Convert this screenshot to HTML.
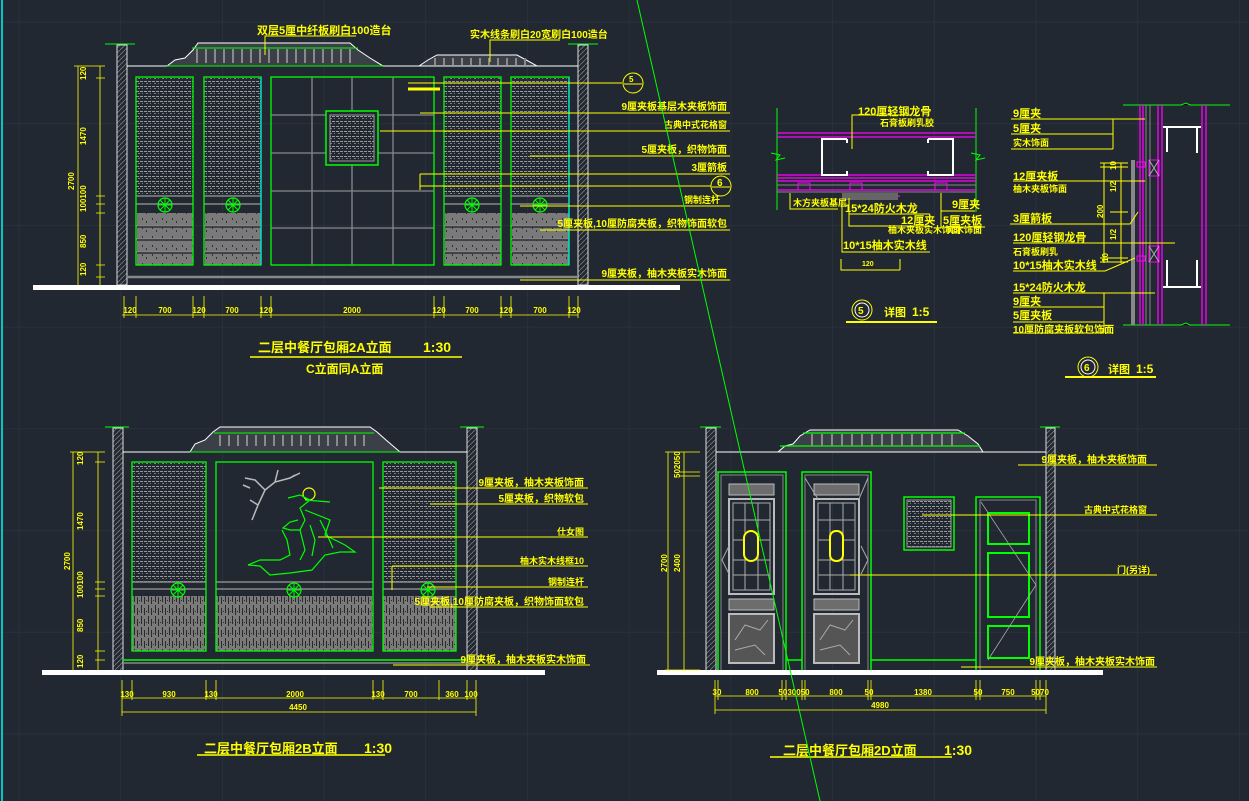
<!DOCTYPE html>
<html><head><meta charset="utf-8">
<style>
html,body{margin:0;padding:0;background:#212832;}
svg{display:block;}
text{font-family:"Liberation Sans","Noto Sans CJK SC",sans-serif;fill:#ffff00;font-weight:bold;}
</style></head>
<body>
<svg width="1249" height="801" viewBox="0 0 1249 801" xmlns="http://www.w3.org/2000/svg">
<defs>
<pattern id="grid" x="18.6" y="21.7" width="101.7" height="101.7" patternUnits="userSpaceOnUse">
<path d="M0 0H101.7M0 0V101.7" stroke="#2d3542" stroke-width="1.2" fill="none"/>
</pattern>
<pattern id="lat" width="8" height="5" patternUnits="userSpaceOnUse">
<rect x="0" y="1" width="3" height="1" fill="#999"/><rect x="4" y="1" width="3" height="1" fill="#999"/>
<rect x="2" y="3" width="2" height="1" fill="#7d7d7d"/><rect x="6" y="3" width="1" height="1" fill="#7d7d7d"/>
</pattern>
<pattern id="stone" width="10" height="9" patternUnits="userSpaceOnUse">
<rect width="10" height="9" fill="#7a7a7a"/>
<rect x="2" y="2" width="1" height="2" fill="#333"/><rect x="6" y="5" width="1" height="2" fill="#333"/>
</pattern>
<pattern id="stripe" width="7" height="11" patternUnits="userSpaceOnUse">
<rect width="7" height="11" fill="#7a7a7a"/>
<rect x="1" y="0" width="1" height="8" fill="#2a2a2a"/><rect x="4" y="3" width="1" height="7" fill="#2a2a2a"/><rect x="6" y="6" width="1" height="1" fill="#2a2a2a"/>
</pattern>
<pattern id="hatch" width="5" height="5" patternUnits="userSpaceOnUse">
<path d="M0 5L5 0" stroke="#7a7a7a" stroke-width="0.8"/>
</pattern>
<g id="flower"><circle r="7" fill="none" stroke="#00ff00" stroke-width="1.2"/><path d="M-7 0H7M0 -7V7M-5 -5L5 5M-5 5L5 -5" stroke="#00ff00" stroke-width="1"/></g>
</defs>
<rect width="1249" height="801" fill="#212832"/>
<rect width="1249" height="801" fill="url(#grid)"/>
<line x1="2" y1="0" x2="2" y2="801" stroke="#00c8c8" stroke-width="2"/>

<!-- ============ TOP-LEFT ELEVATION 2A ============ -->
<g>
<rect x="117" y="45" width="10" height="240" fill="url(#hatch)" stroke="#ddd" stroke-width="1"/>
<rect x="578" y="45" width="10" height="240" fill="url(#hatch)" stroke="#ddd" stroke-width="1"/>
<line x1="105" y1="44" x2="135" y2="44" stroke="#00ff00"/><line x1="568" y1="44" x2="598" y2="44" stroke="#00ff00"/>
<line x1="127" y1="66" x2="578" y2="66" stroke="#fff"/>
<path d="M167 66 L175 60 L185 58 L193 50 L198 43 L350 43 L358 50 L370 58 L383 66 Z" fill="#3a3f48" stroke="#fff" stroke-width="1"/>
<line x1="192" y1="48" x2="358" y2="48" stroke="#00ff00"/>
<line x1="167" y1="66" x2="383" y2="66" stroke="#00ff00"/>
<g stroke="#8a8a8a" stroke-width="2">
<path d="M197 49V63M206 49V63M215 49V63M224 49V63M233 49V63M242 49V63M251 49V63M260 49V63M269 49V63M278 49V63M287 49V63M296 49V63M305 49V63M314 49V63M323 49V63M332 49V63M341 49V63M350 49V63"/>
</g>
<path d="M419 66 L428 60 L437 55 L517 55 L528 61 L537 66 Z" fill="#3a3f48" stroke="#fff" stroke-width="1"/>
<g stroke="#8a8a8a" stroke-width="2"><path d="M435 58V65M444 58V65M453 58V65M462 58V65M471 58V65M480 58V65M489 58V65M498 58V65M507 58V65M516 58V65M525 58V65"/></g>
<g>
<rect x="136" y="77" width="57" height="119" fill="url(#lat)"/>
<rect x="204" y="77" width="57" height="119" fill="url(#lat)"/>
<rect x="444" y="77" width="57" height="119" fill="url(#lat)"/>
<rect x="511" y="77" width="58" height="119" fill="url(#lat)"/>
<g fill="url(#stone)">
<rect x="137" y="213" width="56" height="52"/><rect x="205" y="213" width="56" height="52"/>
<rect x="445" y="213" width="56" height="52"/><rect x="512" y="213" width="57" height="52"/>
</g>
<g stroke="#888" stroke-width="1.5">
<path d="M136 196H193M136 204H193M136 226H193M136 239H193M136 252H193"/>
<path d="M204 196H261M204 204H261M204 226H261M204 239H261M204 252H261"/>
<path d="M444 196H501M444 204H501M444 226H501M444 239H501M444 252H501"/>
<path d="M511 196H569M511 204H569M511 226H569M511 239H569M511 252H569"/>
</g>
<g stroke="#2a2f38" stroke-width="1.5">
<path d="M137 227H193M137 240H193M137 253H193M205 227H261M205 240H261M205 253H261M445 227H501M445 240H501M445 253H501M512 227H569M512 240H569M512 253H569"/>
</g>
<g fill="none" stroke="#00ff00" stroke-width="1.3">
<rect x="136" y="77" width="57" height="188"/><rect x="204" y="77" width="57" height="188"/>
<rect x="444" y="77" width="57" height="188"/><rect x="511" y="77" width="58" height="188"/>
<rect x="271" y="77" width="163" height="188"/>
</g>
<path d="M261 77V265M569 77V265" stroke="#00dddd" stroke-width="1.3"/>
<use href="#flower" x="165" y="205"/><use href="#flower" x="233" y="205"/><use href="#flower" x="472" y="205"/><use href="#flower" x="540" y="205"/>
<g stroke="#888" stroke-width="1.3">
<path d="M312 77V265M352 77V265M393 77V265M271 115H434M271 153H434M271 191H434M271 228H434"/>
</g>
<rect x="326" y="111" width="52" height="54" fill="#212832" stroke="#00ff00" stroke-width="1.5"/>
<rect x="330" y="115" width="44" height="46" fill="url(#lat)" stroke="#999"/>
</g>
<line x1="127" y1="277" x2="578" y2="277" stroke="#888" stroke-width="2.5"/>
<rect x="33" y="285" width="647" height="5" fill="#fff"/>
<g stroke="#ffff00" stroke-width="0.8" fill="none">
<path d="M78 66V285M100 66V285M74 66H105M96 78H105M96 196H105M96 204H105M96 213H105M96 265H105M96 277H105"/>
</g>
<g font-size="8">
<text transform="translate(86,80) rotate(-90)">120</text>
<text transform="translate(86,145) rotate(-90)">1470</text>
<text transform="translate(74,190) rotate(-90)">2700</text>
<text transform="translate(86,212) rotate(-90)">100100</text>
<text transform="translate(86,248) rotate(-90)">850</text>
<text transform="translate(86,276) rotate(-90)">120</text>
</g>
<g stroke="#ffff00" stroke-width="0.8"><path d="M122 315H578M124 296V318M136 296V318M193 296V318M204 296V318M261 296V318M271 296V318M434 296V318M444 296V318M501 296V318M511 296V318M569 296V318M578 296V318"/></g>
<g font-size="8" text-anchor="middle">
<text x="130" y="313">120</text><text x="165" y="313">700</text><text x="199" y="313">120</text><text x="232" y="313">700</text><text x="266" y="313">120</text><text x="352" y="313">2000</text><text x="439" y="313">120</text><text x="472" y="313">700</text><text x="506" y="313">120</text><text x="540" y="313">700</text><text x="574" y="313">120</text>
</g>
<text x="258" y="352" font-size="13">二层中餐厅包厢2A立面</text><text x="423" y="352" font-size="14">1:30</text>
<line x1="250" y1="357" x2="462" y2="357" stroke="#ffff00" stroke-width="1.5"/>
<text x="306" y="373" font-size="12">C立面同A立面</text>
<path d="M265 55V36H356" stroke="#ffff00" fill="none"/>
<text x="257" y="34" font-size="11">双层5厘中纤板刷白100造台</text>
<path d="M490 62V40H560" stroke="#ffff00" fill="none"/>
<text x="470" y="38" font-size="10">实木线条刷白20宽刷白100造台</text>
<g stroke="#ffff00" stroke-width="1">
<path d="M408 83H622"/><path d="M408 89H440" stroke-width="3"/>
<path d="M420 113H730M380 131H730M530 156H730M420 174H730M420 186H711M520 206H730M540 230H730M520 280H730"/>
<path d="M420 174V190"/>
</g>
<circle cx="633" cy="83" r="10" fill="none" stroke="#ffff00"/><line x1="624" y1="84" x2="642" y2="84" stroke="#ffff00"/><text x="629" y="82" font-size="8">5</text>
<circle cx="721" cy="186" r="10" fill="none" stroke="#ffff00"/><line x1="712" y1="187" x2="730" y2="187" stroke="#ffff00"/><text x="717" y="186" font-size="10">6</text>
<g font-size="10" text-anchor="end">
<text x="727" y="110">9厘夹板基层木夹板饰面</text>
<text x="727" y="128" font-size="9">古典中式花格窗</text>
<text x="727" y="153">5厘夹板，织物饰面</text>
<text x="727" y="171">3厘箭板</text>
<text x="720" y="203" font-size="9">钢制连杆</text>
<text x="727" y="227">5厘夹板,10厘防腐夹板，织物饰面软包</text>
<text x="727" y="277">9厘夹板，柚木夹板实木饰面</text>
</g>
</g>

<!-- ============ DETAIL 5 ============ -->
<g>
<path d="M777 108V210M976 108V212" stroke="#00ff00"/>
<path d="M771 153L780 155L776 160L785 158M971 153L980 155L976 160L985 158" stroke="#00ff00" fill="none"/>
<g stroke="#ff00ff" stroke-width="1.2"><path d="M777 133H976M777 137H976M777 175H976M777 178H976M777 181H976M777 190H976M848 196H900"/></g>
<path d="M777 185H976M777 192H976" stroke="#888"/>
<g fill="none" stroke="#fff" stroke-width="2"><path d="M847 139H822V175H847V171M847 139V143"/><path d="M928 139H953V175H928V171M928 139V143"/></g>
<rect x="842" y="193" width="56" height="7" fill="#666"/>
<rect x="798" y="183" width="12" height="7" fill="none" stroke="#ff00ff"/><rect x="850" y="183" width="12" height="7" fill="none" stroke="#ff00ff"/><rect x="935" y="183" width="12" height="7" fill="none" stroke="#ff00ff"/>
<g stroke="#ffff00" fill="none" stroke-width="1">
<path d="M852 149V115H912M790 193V209H838M849 198V214H930M849 214V226H930M842 200V252H930M941 193V211H975M941 211V227H985M841 262V270H900M841 259V270M900 259V270"/>
</g>
<g font-size="11">
<text x="858" y="115">120厘轻钢龙骨</text><text x="880" y="126" font-size="9">石膏板刷乳胶</text>
<text x="793" y="206" font-size="9">木方夹板基层</text>
<text x="845" y="212">15*24防火木龙</text>
<text x="901" y="224">12厘夹</text><text x="888" y="233" font-size="9">柚木夹板实木饰面</text>
<text x="843" y="249">10*15柚木实木线</text>
<text x="952" y="208">9厘夹</text><text x="943" y="224">5厘夹板</text><text x="946" y="233" font-size="9">实木饰面</text>
<text x="862" y="266" font-size="7">120</text>
</g>
<circle cx="862" cy="310" r="10" fill="none" stroke="#ffff00"/><circle cx="862" cy="310" r="7" fill="none" stroke="#fff"/><text x="858" y="314" font-size="10">5</text>
<text x="884" y="316" font-size="11">详图</text><text x="912" y="316" font-size="12">1:5</text>
<line x1="846" y1="322" x2="937" y2="322" stroke="#ffff00" stroke-width="2"/>
</g>

<!-- ============ DETAIL 6 ============ -->
<g>
<path d="M1123 105H1181L1186 103L1190 105H1230M1123 325H1181L1186 323L1190 325H1230" stroke="#00ff00"/>
<g stroke="#ff00ff" stroke-width="1.3"><path d="M1140 105V325M1143 105V325M1158 105V325M1162 105V325M1202 105V325M1206 105V325"/></g>
<path d="M1133 160V325" stroke="#888" stroke-width="4"/>
<path d="M1146 105V325M1150 105V325" stroke="#888" stroke-width="1"/>
<rect x="1149" y="160" width="10" height="16" fill="none" stroke="#ff00ff"/><path d="M1149 160L1159 176M1159 160L1149 176" stroke="#aaa"/>
<rect x="1149" y="246" width="10" height="16" fill="none" stroke="#ff00ff"/><path d="M1149 246L1159 262M1159 246L1149 262" stroke="#aaa"/>
<rect x="1137" y="162" width="8" height="5" fill="none" stroke="#ff00ff"/><rect x="1137" y="256" width="8" height="5" fill="none" stroke="#ff00ff"/>
<g fill="none" stroke="#fff" stroke-width="2"><path d="M1167 152V127H1197V153M1163 127H1172M1192 127H1201"/><path d="M1167 260V287H1197V260M1163 287H1172M1192 287H1201"/></g>
<g stroke="#ffff00" stroke-width="1" fill="none">
<path d="M1011 119H1145M1011 134H1113M1011 149H1113M1113 119V149"/>
<path d="M1013 181H1145M1010 224H1130L1138 212M1013 243H1175M1013 271H1105L1135 258M1013 293H1155M1013 307H1104M1013 322H1104M1013 333H1104M1104 293V333"/>
<path d="M1104 163V263M1121 163V263M1100 163H1128M1100 167H1128M1110 212H1128M1100 258H1128M1100 262H1128"/>
</g>
<g font-size="11">
<text x="1013" y="117">9厘夹</text><text x="1013" y="132">5厘夹</text><text x="1013" y="146" font-size="9">实木饰面</text>
<text x="1013" y="180">12厘夹板</text><text x="1013" y="192" font-size="9">柚木夹板饰面</text>
<text x="1013" y="222">3厘箭板</text>
<text x="1013" y="241">120厘轻钢龙骨</text><text x="1013" y="255" font-size="9">石膏板刷乳</text>
<text x="1013" y="269">10*15柚木实木线</text>
<text x="1013" y="291">15*24防火木龙</text>
<text x="1013" y="305">9厘夹</text><text x="1013" y="319">5厘夹板</text><text x="1013" y="333" font-size="10">10厘防腐夹板软包饰面</text>
</g>
<g font-size="8"><text transform="translate(1116,170) rotate(-90)">10</text><text transform="translate(1116,192) rotate(-90)">1/2</text><text transform="translate(1103,218) rotate(-90)">200</text><text transform="translate(1116,240) rotate(-90)">1/2</text><text transform="translate(1108,262) rotate(-90)">10</text></g>
<circle cx="1088" cy="367" r="10" fill="none" stroke="#ffff00"/><circle cx="1088" cy="367" r="7" fill="none" stroke="#fff"/><text x="1084" y="371" font-size="10">6</text>
<text x="1108" y="373" font-size="11">详图</text><text x="1136" y="373" font-size="12">1:5</text>
<line x1="1065" y1="377" x2="1156" y2="377" stroke="#ffff00" stroke-width="2"/>
</g>

<!-- ============ BOTTOM-LEFT 2B ============ -->
<g>
<rect x="113" y="428" width="10" height="243" fill="url(#hatch)" stroke="#ddd"/>
<rect x="467" y="428" width="10" height="243" fill="url(#hatch)" stroke="#ddd"/>
<line x1="105" y1="427" x2="129" y2="427" stroke="#00ff00"/><line x1="460" y1="427" x2="484" y2="427" stroke="#00ff00"/>
<line x1="123" y1="452" x2="467" y2="452" stroke="#fff"/>
<path d="M190 452 L195 444 L205 440 L213 432 L220 427 L370 427 L377 432 L386 440 L393 446 L400 452 Z" fill="#3a3f48" stroke="#fff"/>
<path d="M214 433H374M190 452H400" stroke="#00ff00"/>
<g stroke="#8a8a8a" stroke-width="2"><path d="M220 435V446M229 435V446M238 435V446M247 435V446M256 435V446M265 435V446M274 435V446M283 435V446M292 435V446M301 435V446M310 435V446M319 435V446M328 435V446M337 435V446M346 435V446M355 435V446M364 435V446"/></g>
<rect x="132" y="462" width="74" height="120" fill="url(#lat)"/>
<rect x="383" y="462" width="73" height="120" fill="url(#lat)"/>
<rect x="132" y="596" width="74" height="55" fill="url(#stripe)"/>
<rect x="216" y="596" width="157" height="55" fill="url(#stripe)"/>
<rect x="383" y="596" width="73" height="55" fill="url(#stripe)"/>
<g stroke="#888" stroke-width="1.5"><path d="M132 582H206M132 589H206M216 582H373M216 589H373M383 582H456M383 589H456"/></g>
<g fill="none" stroke="#00ff00" stroke-width="1.3">
<rect x="132" y="462" width="74" height="189"/><rect x="216" y="462" width="157" height="189"/><rect x="383" y="462" width="73" height="189"/>
</g>
<use href="#flower" x="178" y="590"/><use href="#flower" x="294" y="590"/><use href="#flower" x="428" y="590"/>
<g stroke="#bbb" stroke-width="1.5" fill="none">
<path d="M252 520L258 505L265 490L275 482L290 478L295 475M265 490L255 480L245 478M275 482L278 470M290 478L300 473M258 505L250 500M243 485L250 488"/>
</g>
<g stroke="#00ff00" stroke-width="1.2" fill="none">
<circle cx="309" cy="494" r="6" stroke="#ffff00"/>
<path d="M288 498L300 495L310 500L300 508L305 520L300 530L290 530L283 528L290 522L298 520M305 500L330 502M305 510L330 520L325 535L345 545L355 552L340 552L325 555L312 570L290 573L270 575L260 566L248 565L260 560L280 560L290 555L287 540L282 530"/>
<path d="M300 530L305 550L300 560M310 525L315 540L312 556M320 520L325 530L333 548"/>
</g>
<path d="M123 660H467" stroke="#00ff00" stroke-width="1.5"/><path d="M123 663H467" stroke="#888" stroke-width="1.5"/>
<rect x="42" y="670" width="503" height="5" fill="#fff"/>
<g stroke="#ffff00" stroke-width="0.8" fill="none">
<path d="M73 452V670M98 452V670M70 452H105M95 462H105M95 582H105M95 589H105M95 596H105M95 651H105M95 660H105"/>
<path d="M122 698H476M122 712H476M122 680V716M132 680V700M206 680V700M216 680V700M373 680V700M383 680V700M439 680V700M467 680V700M476 680V716"/>
</g>
<g font-size="8">
<text transform="translate(83,465) rotate(-90)">120</text><text transform="translate(83,530) rotate(-90)">1470</text>
<text transform="translate(70,570) rotate(-90)">2700</text><text transform="translate(83,598) rotate(-90)">100100</text>
<text transform="translate(83,632) rotate(-90)">850</text><text transform="translate(83,668) rotate(-90)">120</text>
</g>
<g font-size="8" text-anchor="middle">
<text x="127" y="697">130</text><text x="169" y="697">930</text><text x="211" y="697">130</text><text x="295" y="697">2000</text><text x="378" y="697">130</text><text x="411" y="697">700</text><text x="452" y="697">360</text><text x="471" y="697">100</text>
<text x="298" y="710">4450</text>
</g>
<text x="204" y="753" font-size="13">二层中餐厅包厢2B立面</text><text x="364" y="753" font-size="14">1:30</text>
<line x1="197" y1="755" x2="385" y2="755" stroke="#ffff00" stroke-width="1.5"/>
<g stroke="#ffff00" stroke-width="1">
<path d="M379 488H588M430 504H588M318 537H588M392 566H588M392 566V590M427 587H588M430 607H588M393 665H590"/>
</g>
<g font-size="10" text-anchor="end">
<text x="584" y="486">9厘夹板，柚木夹板饰面</text><text x="584" y="502">5厘夹板，织物软包</text>
<text x="584" y="535" font-size="9">仕女图</text><text x="584" y="564" font-size="9">柚木实木线框10</text>
<text x="584" y="585" font-size="9">钢制连杆</text><text x="584" y="605">5厘夹板,10厘防腐夹板，织物饰面软包</text>
<text x="586" y="663">9厘夹板，柚木夹板实木饰面</text>
</g>
</g>

<!-- ============ BOTTOM-RIGHT 2D ============ -->
<g>
<rect x="706" y="428" width="10" height="243" fill="url(#hatch)" stroke="#ddd"/>
<rect x="1046" y="428" width="9" height="243" fill="url(#hatch)" stroke="#ddd"/>
<line x1="700" y1="427" x2="721" y2="427" stroke="#00ff00"/><line x1="1040" y1="427" x2="1060" y2="427" stroke="#00ff00"/>
<line x1="716" y1="452" x2="1046" y2="452" stroke="#fff"/>
<path d="M778 452L785 446L793 444L800 436L810 430L958 430L968 436L978 444L983 452Z" fill="#3a3f48" stroke="#fff"/>
<path d="M803 433H965M780 446H980" stroke="#00ff00" stroke-width="1.3"/>
<g stroke="#8a8a8a" stroke-width="2"><path d="M812 434V446M822 434V446M832 434V446M842 434V446M852 434V446M862 434V446M872 434V446M882 434V446M892 434V446M902 434V446M912 434V446M922 434V446M932 434V446M942 434V446M952 434V446"/></g>
<g fill="none">
<rect x="718" y="472" width="68" height="199" stroke="#00ff00" stroke-width="1.5"/>
<rect x="721" y="475" width="62" height="196" stroke="#888"/>
<rect x="729" y="484" width="45" height="11" fill="#6d6d6d" stroke="#bbb"/>
<rect x="729" y="499" width="45" height="95" stroke="#bbb" stroke-width="2"/>
<path d="M733 503H770V590H733Z M733 520H770M733 540H770M733 560H770M733 575H770M745 503V590M758 503V590" stroke="#aaa"/>
<rect x="744" y="531" width="14" height="30" rx="7" stroke="#ffff00" stroke-width="2" fill="#212832"/>
<rect x="729" y="599" width="45" height="11" fill="#6d6d6d" stroke="#bbb"/>
<rect x="729" y="614" width="45" height="49" fill="#555" stroke="#bbb" stroke-width="2"/>
<path d="M735 640L745 625L760 630L768 620M735 650L755 645L765 655" stroke="#aaa"/>
<path d="M722 560L729 546M722 560L729 574" stroke="#aaa"/>
</g>
<g fill="none">
<rect x="802" y="472" width="69" height="199" stroke="#00ff00" stroke-width="1.5"/>
<rect x="805" y="475" width="63" height="196" stroke="#888"/>
<rect x="814" y="484" width="45" height="11" fill="#6d6d6d" stroke="#bbb"/>
<rect x="814" y="499" width="45" height="95" stroke="#bbb" stroke-width="2"/>
<path d="M818 503H855V590H818Z M818 520H855M818 540H855M818 560H855M818 575H855M830 503V590M843 503V590" stroke="#aaa"/>
<rect x="830" y="531" width="13" height="30" rx="6" stroke="#ffff00" stroke-width="2" fill="#212832"/>
<rect x="814" y="599" width="45" height="11" fill="#6d6d6d" stroke="#bbb"/>
<rect x="814" y="614" width="45" height="49" fill="#555" stroke="#bbb" stroke-width="2"/>
<path d="M820 640L830 625L845 630L853 620M820 650L840 645L850 655" stroke="#aaa"/>
<path d="M805 478L818 499M868 478L859 499M868 560L861 546M868 560L861 574" stroke="#aaa"/>
</g>
<path d="M786 660H802M871 660H976" stroke="#00ff00" stroke-width="1.5"/>
<rect x="904" y="497" width="50" height="53" fill="none" stroke="#00ff00" stroke-width="1.5"/>
<rect x="907" y="500" width="44" height="47" fill="url(#lat)" stroke="#999"/>
<g fill="none">
<rect x="976" y="497" width="64" height="174" stroke="#00ff00" stroke-width="1.5"/>
<rect x="980" y="500" width="56" height="171" stroke="#888"/>
<rect x="988" y="513" width="41" height="31" stroke="#00ff00" stroke-width="2"/>
<rect x="988" y="553" width="41" height="64" stroke="#00ff00" stroke-width="2"/>
<rect x="988" y="626" width="41" height="32" stroke="#00ff00" stroke-width="2"/>
<path d="M981 502L1036 585L988 660" stroke="#aaa" stroke-width="0.8"/>
</g>
<rect x="657" y="670" width="446" height="5" fill="#fff"/>
<g stroke="#ffff00" stroke-width="0.8" fill="none">
<path d="M668 452V670M684 452V670M665 452H700M680 472H700M680 476H700M665 670H700"/>
<path d="M715 696H1046M715 710H1046M715 680V714M718 680V700M782 680V700M786 680V700M802 680V700M805 680V700M868 680V700M871 680V700M976 680V700M980 680V700M1036 680V700M1040 680V700M1046 680V714"/>
</g>
<g font-size="8">
<text transform="translate(680,478) rotate(-90)">502050</text>
<text transform="translate(667,572) rotate(-90)">2700</text><text transform="translate(680,572) rotate(-90)">2400</text>
</g>
<g font-size="8" text-anchor="middle">
<text x="717" y="695">30</text><text x="752" y="695">800</text><text x="794" y="695">5030050</text><text x="836" y="695">800</text><text x="869" y="695">50</text><text x="923" y="695">1380</text><text x="978" y="695">50</text><text x="1008" y="695">750</text><text x="1040" y="695">5070</text>
<text x="880" y="708">4980</text>
</g>
<text x="783" y="755" font-size="13">二层中餐厅包厢2D立面</text><text x="944" y="755" font-size="14">1:30</text>
<line x1="770" y1="757" x2="952" y2="757" stroke="#ffff00" stroke-width="1.5"/>
<g stroke="#ffff00" stroke-width="1"><path d="M1018 465H1157M922 515H1157M850 575H1157M961 667H1157"/></g>
<g font-size="10" text-anchor="end">
<text x="1147" y="463">9厘夹板，柚木夹板饰面</text>
<text x="1147" y="513" font-size="9">古典中式花格窗</text>
<text x="1150" y="573" font-size="9">门(另详)</text>
<text x="1155" y="665">9厘夹板，柚木夹板实木饰面</text>
</g>
</g>

<line x1="637" y1="0" x2="820" y2="801" stroke="#00ff00" stroke-width="1"/>
</svg>
</body></html>
